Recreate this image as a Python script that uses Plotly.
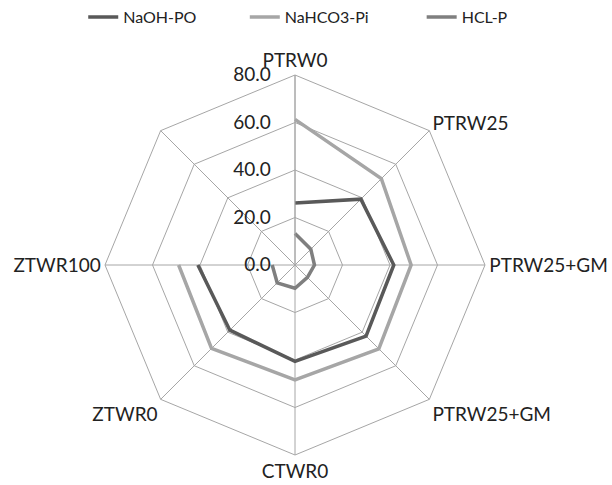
import plotly.graph_objects as go

categories = ["PTRW0", "PTRW25", "PTRW25+GM", "PTRW25+GM\u200b", "CTWR0", "ZTWR0", "ZTWR100", " "]

naoh_po = [26.1, 39.2, 41.6, 42.3, 40.6, 38.8, 40.9, None]
nahco3_pi = [61.3, 51.4, 48.9, 49.9, 48.4, 49.7, 49.0, None]
hcl_p = [13.3, 9.4, 8.2, 7.4, 9.8, 10.6, 9.6, None]

radial_ticks = [0, 20, 40, 60, 80]

series = [
    ("NaOH-PO", naoh_po, "#595959"),
    ("NaHCO3-Pi", nahco3_pi, "#a6a6a6"),
    ("HCL-P", hcl_p, "#7f7f7f"),
]
legend_x = [0.136, 0.400, 0.689]

FONT = "Lato, Open Sans, sans-serif"
TXT = "#222222"
grid = "#a6a6a6"
FS = 19
LFS = 16

fig = go.Figure()
for i, (name, vals, color) in enumerate(series):
    fig.add_trace(go.Scatterpolar(
        r=vals, theta=categories, mode="lines", name=name,
        line=dict(color=color, width=3.5),
        connectgaps=False,
        legend="legend" if i == 0 else f"legend{i+1}",
    ))

layout = dict(
    width=612, height=485,
    paper_bgcolor="white", plot_bgcolor="white",
    margin=dict(l=105, r=127, t=75, b=30),
    font=dict(family=FONT, size=FS, color=TXT),
    showlegend=True,
    polar=dict(
        bgcolor="white",
        gridshape="linear",
        radialaxis=dict(
            range=[0, 80], tickvals=radial_ticks, tickformat=".1f",
            angle=90, tickangle=90, side="counterclockwise",
            showline=True, linecolor=grid, linewidth=1,
            gridcolor=grid, gridwidth=1,
            ticks="outside", ticklen=17, tickcolor="rgba(0,0,0,0)",
            showticklabels=True,
            tickfont=dict(size=FS, color=TXT),
        ),
        angularaxis=dict(
            type="category", rotation=90, direction="clockwise",
            categoryorder="array", categoryarray=categories,
            showline=True, linecolor=grid, linewidth=1,
            gridcolor=grid, gridwidth=1, ticks="",
            tickfont=dict(size=FS, color=TXT),
        ),
    ),
)
for i, lx in enumerate(legend_x):
    key = "legend" if i == 0 else f"legend{i+1}"
    layout[key] = dict(
        orientation="h", xref="container", yref="container",
        x=lx, xanchor="left", y=1.0, yanchor="top",
        font=dict(size=LFS, color=TXT), bgcolor="rgba(0,0,0,0)",
    )
fig.update_layout(**layout)

fig.write_html("out.html")
